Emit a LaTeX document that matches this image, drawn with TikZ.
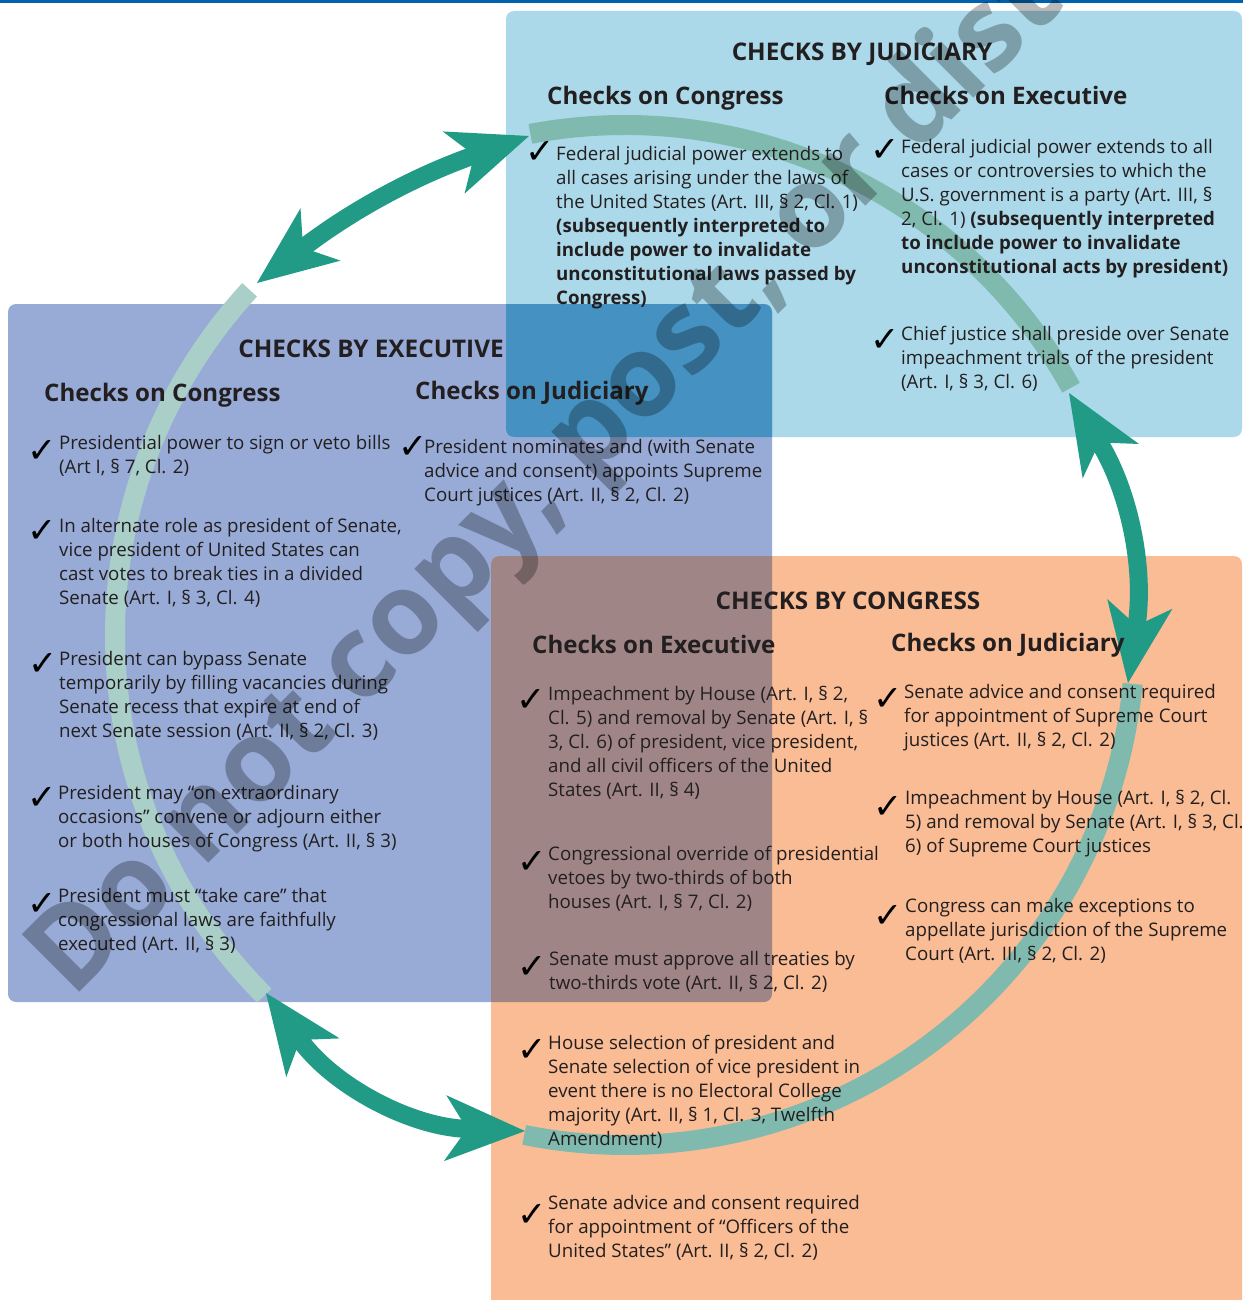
\documentclass[tikz,border=0pt]{standalone}
\usepackage{fontspec}
\setmainfont{Open Sans}
\newfontfamily\chkfont{DejaVu Sans}
\usetikzlibrary{positioning,arrows.meta}
\definecolor{topblue}{HTML}{0062AC}
\definecolor{judblue}{HTML}{ABD9E9}
\definecolor{exeblue}{HTML}{97ABD6}
\definecolor{conpeach}{HTML}{F9BC94}
\definecolor{ovblue}{HTML}{4592C2}
\definecolor{ovmauve}{HTML}{A08586}
\definecolor{arrowteal}{HTML}{229B86}
\definecolor{ringlight}{HTML}{A9CFC8}
\definecolor{ringdark}{HTML}{80BAAE}
\definecolor{ink}{HTML}{231F20}

\begin{document}
\begin{tikzpicture}[x=1pt,y=-1pt,
    ttl/.style={anchor=base,inner sep=0pt,text=ink,font=\bfseries\fontsize{24.3}{28}\selectfont},
    sub/.style={anchor=base west,inner sep=0pt,text=ink,font=\bfseries\fontsize{24.1}{28}\selectfont},
    txt/.style={anchor=north west,inner sep=0pt,align=left,text=ink,font=\fontsize{18.7}{24}\selectfont},
    chk/.style={inner sep=0pt,text=black,font=\chkfont\bfseries\fontsize{35}{35}\selectfont},
    ring/.style={line width=20pt},
    dbl/.style={draw=arrowteal,line width=18pt,
      {Stealth[length=80pt,width=66pt,inset=22pt,line width=0pt]}-{Stealth[length=80pt,width=66pt,inset=22pt,line width=0pt]}}]
  \useasboundingbox (0,0) rectangle (1243,1300);
  \clip (0,0) rectangle (1243,1300);
  \fill[topblue] (0,0) rectangle (1243,3);

  % the three branches
  \fill[judblue,rounded corners=8pt] (506,11) rectangle (1242,437);
  \fill[exeblue,rounded corners=8pt] (8,304) rectangle (772,1002);
  \fill[conpeach,rounded corners=8pt] (491,556) rectangle (1242,1320);
  \begin{scope}
    \clip[rounded corners=8pt] (8,304) rectangle (772,1002);
    \fill[ovblue,rounded corners=8pt] (506,11) rectangle (1242,437);
    \fill[ovmauve,rounded corners=8pt] (491,556) rectangle (1242,1320);
  \end{scope}

  % ring and arrows
  \coordinate (ctr) at (625,635);
  \draw[ring,ringdark] (ctr) ++(-100.7:510) arc[start angle=-100.7,end angle=-29,radius=510];
  \draw[ring,ringdark] (ctr) ++(5.5:510) arc[start angle=5.5,end angle=101.4,radius=510];
  \draw[ring,ringlight] (ctr) ++(135:510) arc[start angle=135,end angle=222.6,radius=510];
  \coordinate (a1) at (257,283);
  \coordinate (a2) at (529,136);
  \coordinate (b1) at (1069,393);
  \coordinate (b2) at (1128,683);
  \coordinate (c1) at (266,993);
  \coordinate (c2) at (525,1131);
  \draw[dbl] (a1) to[bend left=9] (a2);
  \draw[dbl] (b1) to[bend left=20] (b2);
  \draw[dbl] (c1) to[bend right=26] (c2);

  % judiciary
  \node[ttl] (judTitle) at (862,61) {CHECKS BY JUDICIARY};
  \node[sub] (judCon) at (547,105) {Checks on Congress};
  \node[sub] (judExe) at (884,105) {Checks on Executive};
  \node[txt] (jc1) at (556,146) {Federal judicial power extends to\\all cases arising under the laws of\\the United States (Art. III, § 2, Cl. 1)\\\textbf{(subsequently interpreted to}\\\textbf{include power to invalidate}\\\textbf{unconstitutional laws passed by}\\\textbf{Congress)}};
  \node[chk] (jc1c) at (540,152) {✓};
  \node[txt] (je1) at (901,139) {Federal judicial power extends to all\\cases or controversies to which the\\U.S. government is a party (Art. III, §\\2, Cl. 1) \textbf{(subsequently interpreted}\\\textbf{to include power to invalidate}\\\textbf{unconstitutional acts by president)}};
  \node[chk] (je1c) at (885,150) {✓};
  \node[txt] (je2) at (901,326) {Chief justice shall preside over Senate\\impeachment trials of the president\\(Art. I, § 3, Cl. 6)};
  \node[chk] (je2c) at (885,340) {✓};

  % executive
  \node[ttl] (exeTitle) at (371,357) {CHECKS BY EXECUTIVE};
  \node[sub] (exeCon) at (44,401) {Checks on Congress};
  \node[sub] (exeJud) at (415,399) {Checks on Judiciary};
  \node[txt] (ec1) at (59,435) {Presidential power to sign or veto bills\\(Art I, § 7, Cl. 2)};
  \node[chk] (ec1c) at (42,451) {✓};
  \node[txt] (ec2) at (59,518) {In alternate role as president of Senate,\\vice president of United States can\\cast votes to break ties in a divided\\Senate (Art. I, § 3, Cl. 4)};
  \node[chk] (ec2c) at (42,531) {✓};
  \node[txt] (ec3) at (59,651) {President can bypass Senate\\temporarily by filling vacancies during\\Senate recess that expire at end of\\next Senate session (Art. II, § 2, Cl. 3)};
  \node[chk] (ec3c) at (43,664) {✓};
  \node[txt] (ec4) at (58,785) {President may “on extraordinary\\occasions” convene or adjourn either\\or both houses of Congress (Art. II, § 3)};
  \node[chk] (ec4c) at (42,798) {✓};
  \node[txt] (ec5) at (58,888) {President must “take care” that\\congressional laws are faithfully\\executed (Art. II, § 3)};
  \node[chk] (ec5c) at (42,904) {✓};
  \node[txt] (ej1) at (424,439) {President nominates and (with Senate\\advice and consent) appoints Supreme\\Court justices (Art. II, § 2, Cl. 2)};
  \node[chk] (ej1c) at (413,447) {✓};

  % congress
  \node[ttl] (conTitle) at (848,609) {CHECKS BY CONGRESS};
  \node[sub] (conExe) at (532,653) {Checks on Executive};
  \node[sub] (conJud) at (891,651) {Checks on Judiciary};
  \node[txt] (ce1) at (548,686) {Impeachment by House (Art. I, § 2,\\Cl. 5) and removal by Senate (Art. I, §\\3, Cl. 6) of president, vice president,\\and all civil officers of the United\\States (Art. II, § 4)};
  \node[chk] (ce1c) at (531,700) {✓};
  \node[txt] (ce2) at (548,846) {Congressional override of presidential\\vetoes by two-thirds of both\\houses (Art. I, § 7, Cl. 2)};
  \node[chk] (ce2c) at (532,862) {✓};
  \node[txt] (ce3) at (549,951) {Senate must approve all treaties by\\two-thirds vote (Art. II, § 2, Cl. 2)};
  \node[chk] (ce3c) at (532,967) {✓};
  \node[txt] (ce4) at (548,1035) {House selection of president and\\Senate selection of vice president in\\event there is no Electoral College\\majority (Art. II, § 1, Cl. 3, Twelfth\\Amendment)};
  \node[chk] (ce4c) at (532,1050) {✓};
  \node[txt] (ce5) at (548,1195) {Senate advice and consent required\\for appointment of “Officers of the\\United States” (Art. II, § 2, Cl. 2)};
  \node[chk] (ce5c) at (532,1215) {✓};
  \node[txt] (cj1) at (904,684) {Senate advice and consent required\\for appointment of Supreme Court\\justices (Art. II, § 2, Cl. 2)};
  \node[chk] (cj1c) at (888,699) {✓};
  \node[txt] (cj2) at (905,790) {Impeachment by House (Art. I, § 2, Cl.\\5) and removal by Senate (Art. I, § 3, Cl.\\6) of Supreme Court justices};
  \node[chk] (cj2c) at (888,807) {✓};
  \node[txt] (cj3) at (905,898) {Congress can make exceptions to\\appellate jurisdiction of the Supreme\\Court (Art. III, § 2, Cl. 2)};
  \node[chk] (cj3c) at (888,916) {✓};

  % watermark
  \node[anchor=base west,rotate=45,inner sep=0pt,text=black,opacity=0.27,
    font=\bfseries\fontsize{114}{114}\selectfont] (wmark) at (72,1000) {Do not copy, post, or distribute};
\end{tikzpicture}
\end{document}
